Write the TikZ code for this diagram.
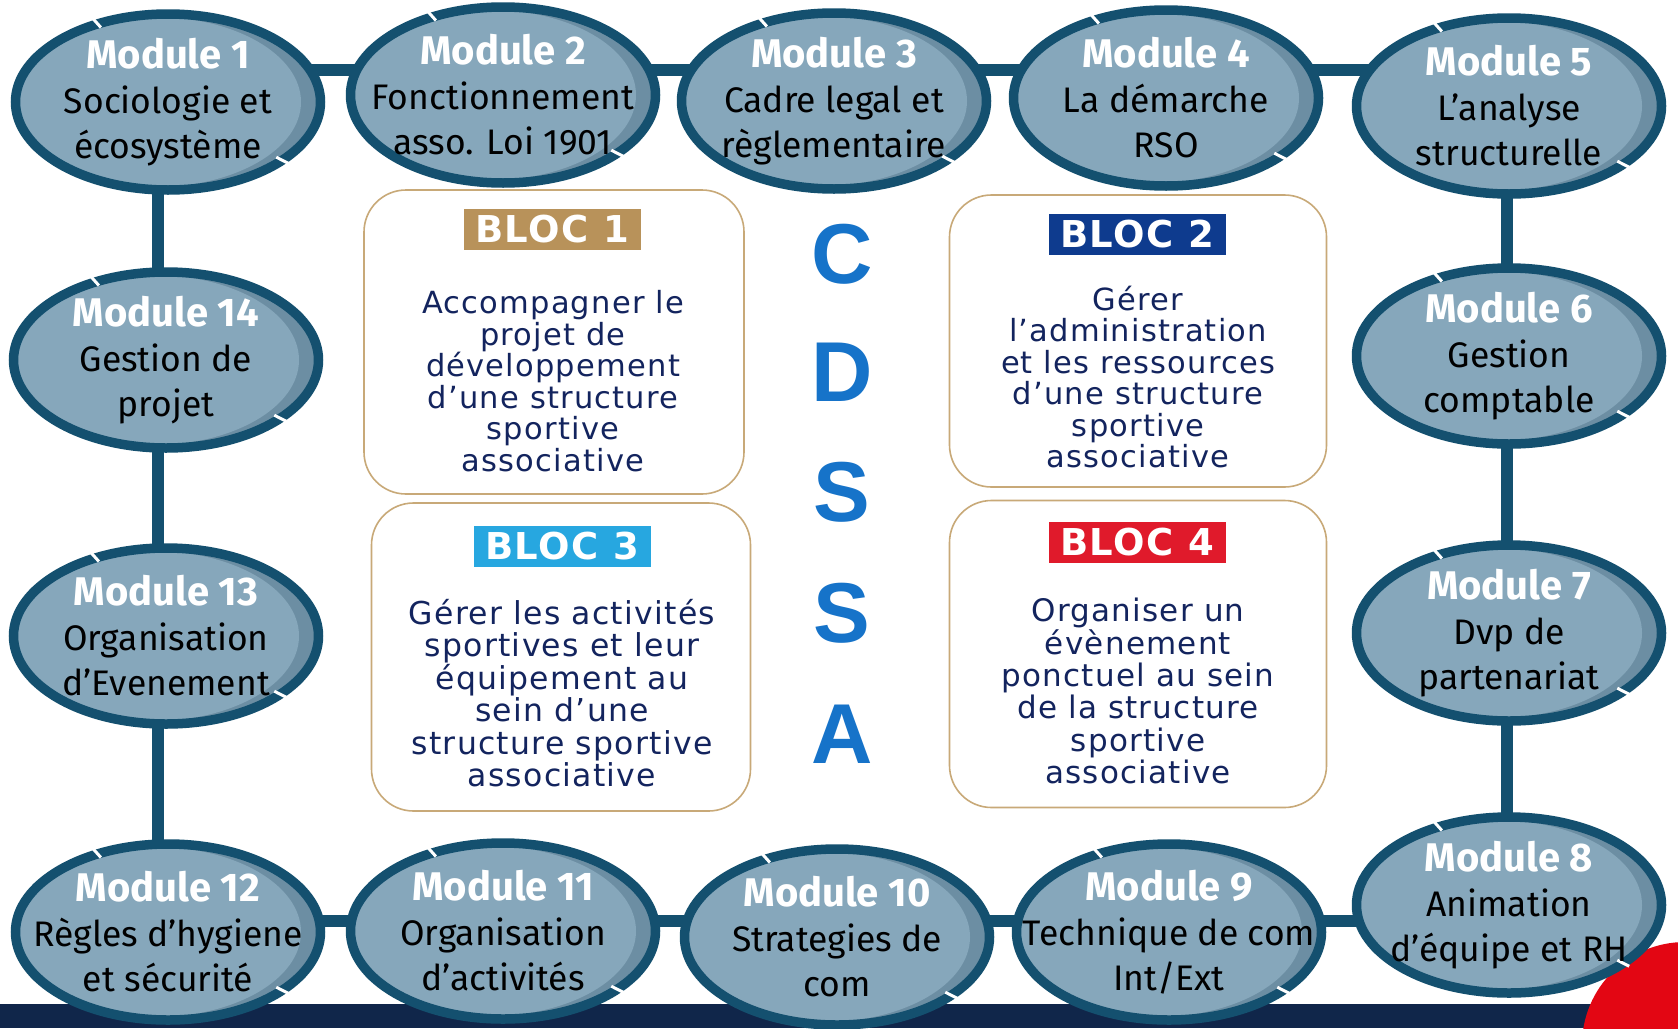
\documentclass[tikz,border=0pt]{standalone}
\usepackage{fontspec}
\setmainfont{Fira Sans}
\newfontfamily\blocfont{DejaVu Sans}[LetterSpace=4]
\newfontfamily\cdsafont{Liberation Sans}
\usetikzlibrary{shapes.geometric,calc}
\pgfdeclarelayer{bg}
\pgfsetlayers{bg,main}
\definecolor{modfill}{HTML}{86A7BB}
\definecolor{modshade}{HTML}{6C8EA3}
\definecolor{modline}{HTML}{14506F}
\definecolor{barc}{HTML}{10264A}
\definecolor{redc}{HTML}{E30613}
\definecolor{blocborder}{HTML}{C8A978}
\definecolor{bloconec}{HTML}{B8925A}
\definecolor{bloctwoc}{HTML}{0E3B8E}
\definecolor{blocthreec}{HTML}{27A7E0}
\definecolor{blocfourc}{HTML}{E01A2B}
\definecolor{bloctextc}{HTML}{13245E}
\definecolor{cdsablue}{HTML}{1673C9}
\newcommand\modt[1]{{\bfseries\fontsize{40}{45}\selectfont\color{white}#1}}
\tikzset{
  modnode/.style={ellipse, draw=modline, line width=9.5pt, fill=modfill,
    minimum width=305pt, minimum height=176pt, inner sep=0pt,
    path picture={
      \fill[modshade] (path picture bounding box.south west) rectangle (path picture bounding box.north east);
      \fill[modfill] ([xshift=-13pt]path picture bounding box.center) ellipse [x radius=146pt, y radius=85pt];
    }},
  modtext/.style={align=center, inner sep=0pt, font=\fontsize{35.5}{45}\selectfont, text=black},
  conn/.style={draw=modline, line width=12.5pt},
  blocbox/.style={draw=blocborder, line width=1.6pt, rounded corners=42pt, fill=white, inner sep=0pt},
  bloclabel/.style={text=white, font=\blocfont\bfseries\fontsize{37}{37}\selectfont,
    minimum width=177pt, minimum height=41pt, inner sep=0pt},
  bloctext/.style={text=bloctextc, align=center, inner sep=0pt,
    font=\blocfont\fontsize{30.5}{31.5}\selectfont},
  cdsa/.style={text=cdsablue, font=\cdsafont\bfseries\fontsize{85}{85}\selectfont, inner sep=0pt}
}
\begin{document}
\begin{tikzpicture}[x=1pt,y=-1pt]
\useasboundingbox (0,0) rectangle (1678,1028);

% modules
\node[modnode] (m1) at (168,102) {};
\node[modnode] (m2) at (503,95) {};
\node[modnode] (m3) at (834,101) {};
\node[modnode] (m4) at (1166,98) {};
\node[modnode] (m5) at (1509,106) {};
\node[modnode] (m6) at (1509,356) {};
\node[modnode] (m7) at (1509,633) {};
\node[modnode] (m8) at (1509,905) {};
\node[modnode] (m9) at (1169,932) {};
\node[modnode] (m10) at (837,937) {};
\node[modnode] (m11) at (503,931) {};
\node[modnode] (m12) at (168,932) {};
\node[modnode] (m13) at (166,636) {};
\node[modnode] (m14) at (166,360) {};

\foreach \n in {m1,m2,m3,m4,m5,m6,m7,m8,m9,m10,m11,m12,m13,m14}{
  \draw[white, line width=3pt] ($(\n.center)!0.91!(\n.132)$) -- ($(\n.center)!1.01!(\n.132)$);
  \draw[white, line width=3pt] ($(\n.center)!0.91!(\n.-27)$) -- ($(\n.center)!1.01!(\n.-27)$);
}

\node[modtext] (t1) at (m1) {\modt{Module 1}\\Sociologie et\\écosystème};
\node[modtext] (t2) at (m2) {\modt{Module 2}\\Fonctionnement\\asso. Loi 1901};
\node[modtext] (t3) at (m3) {\modt{Module 3}\\Cadre legal et\\règlementaire};
\node[modtext] (t4) at (m4) {\modt{Module 4}\\La démarche\\RSO};
\node[modtext] (t5) at (m5) {\modt{Module 5}\\L’analyse\\structurelle};
\node[modtext] (t6) at (m6) {\modt{Module 6}\\Gestion\\comptable};
\node[modtext] (t7) at (m7) {\modt{Module 7}\\Dvp de\\partenariat};
\node[modtext] (t8) at (m8) {\modt{Module 8}\\Animation\\d’équipe et RH};
\node[modtext] (t9) at (m9) {\modt{Module 9}\\Technique de com\\Int/Ext};
\node[modtext] (t10) at (m10) {\modt{Module 10}\\Strategies de\\com};
\node[modtext] (t11) at (m11) {\modt{Module 11}\\Organisation\\d’activités};
\node[modtext] (t12) at (m12) {\modt{Module 12}\\Règles d’hygiene\\et sécurité};
\node[modtext] (t13) at (m13) {\modt{Module 13}\\Organisation\\d’Evenement};
\node[modtext] (t14) at (m14) {\modt{Module 14}\\Gestion de\\projet};

% background: bar, red disc, connectors
\begin{pgfonlayer}{bg}
\fill[white] (0,0) rectangle (1678,1028);
\fill[barc] (0,1004) rectangle (1678,1028);
\begin{scope}
\clip (0,0) rectangle (1678,1028);
\fill[redc] (1685,1045) circle[radius=103pt];
\end{scope}
\coordinate (toprow) at (0,70);
\coordinate (botrow) at (0,921);
\coordinate (leftcol) at (158,0);
\coordinate (rightcol) at (1507,0);
\draw[conn] (m1 |- toprow) -- (m2 |- toprow);
\draw[conn] (m2 |- toprow) -- (m3 |- toprow);
\draw[conn] (m3 |- toprow) -- (m4 |- toprow);
\draw[conn] (m4 |- toprow) -- (m5 |- toprow);
\draw[conn] (rightcol |- m5) -- (rightcol |- m6);
\draw[conn] (rightcol |- m6) -- (rightcol |- m7);
\draw[conn] (rightcol |- m7) -- (rightcol |- m8);
\draw[conn] (m8 |- botrow) -- (m9 |- botrow);
\draw[conn] (m9 |- botrow) -- (m10 |- botrow);
\draw[conn] (m10 |- botrow) -- (m11 |- botrow);
\draw[conn] (m11 |- botrow) -- (m12 |- botrow);
\draw[conn] (leftcol |- m12) -- (leftcol |- m13);
\draw[conn] (leftcol |- m13) -- (leftcol |- m14);
\draw[conn] (leftcol |- m14) -- (leftcol |- m1);
\end{pgfonlayer}

% blocs
\node[blocbox, minimum width=380pt, minimum height=304pt] (b1) at (554,342) {};
\node[blocbox, minimum width=377pt, minimum height=292pt] (b2) at (1138,341) {};
\node[blocbox, minimum width=379pt, minimum height=308pt] (b3) at (561,657) {};
\node[blocbox, minimum width=377pt, minimum height=307pt] (b4) at (1138,654) {};

\node[bloclabel, fill=bloconec] (b1l) at (552,229) {BLOC 1};
\node[bloclabel, fill=bloctwoc] (b2l) at (1137,234) {BLOC 2};
\node[bloclabel, fill=blocthreec] (b3l) at (562,546) {BLOC 3};
\node[bloclabel, fill=blocfourc] (b4l) at (1137,542) {BLOC 4};

\node[bloctext] (b1t) at (553,381) {Accompagner le\\projet de\\développement\\d’une structure\\sportive\\associative};
\node[bloctext] (b2t) at (1138,377) {Gérer\\l’administration\\et les ressources\\d’une structure\\sportive\\associative};
\node[bloctext, font=\blocfont\fontsize{31.5}{32.5}\selectfont] (b3t) at (562,693) {Gérer les activités\\sportives et leur\\équipement au\\sein d’une\\structure sportive\\associative};
\node[bloctext, font=\blocfont\fontsize{31}{32.3}\selectfont] (b4t) at (1138,691) {Organiser un\\évènement\\ponctuel au sein\\de la structure\\sportive\\associative};

% CDSA
\node[cdsa] (cc) at (842,254) {C};
\node[cdsa] (cd) at (842,372) {D};
\node[cdsa] (cs1) at (842,492) {S};
\node[cdsa] (cs2) at (842,613) {S};
\node[cdsa] (ca) at (842,734) {A};
\end{tikzpicture}
\end{document}
